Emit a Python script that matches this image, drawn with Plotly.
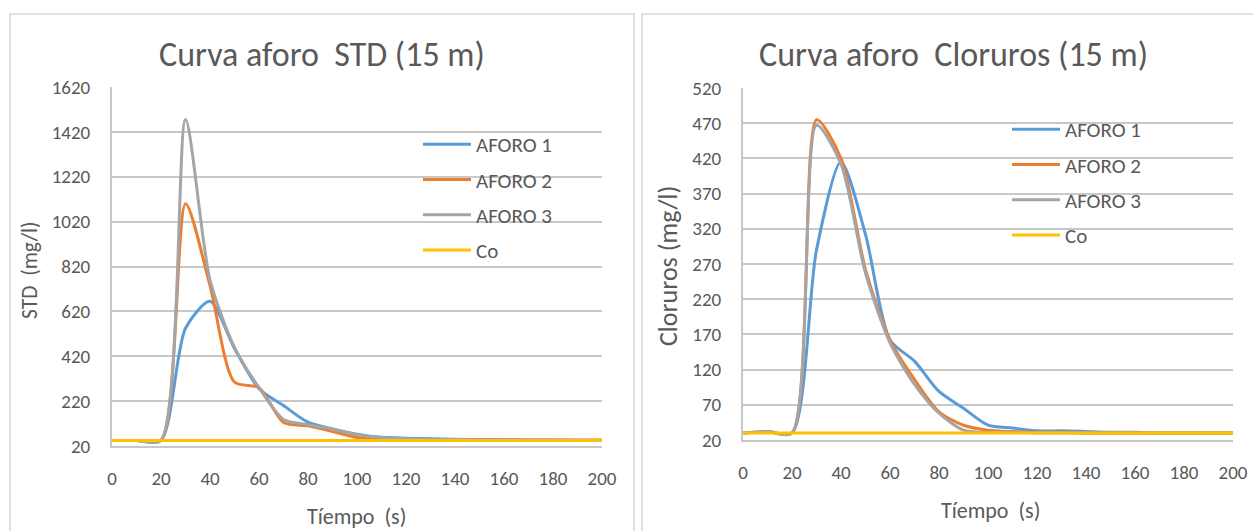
import plotly.graph_objects as go

W, H = 1253, 531

# ---------------- data ----------------
tiempo = [0, 10, 20, 30, 40, 50, 60, 70, 80, 90, 100, 110, 120, 130, 140, 150, 160, 170, 180, 190, 200]

std_aforo1 = [45, 45, 45, 545, 665, 455, 275, 200, 126, 96, 73, 59, 55, 52, 50, 49, 48, 47, 47, 46, 46]
std_aforo2 = [45, 45, 45, 1100, 735, 305, 280, 125, 110, 85, 58, 50, 48, 47, 47, 46, 46, 46, 46, 46, 46]
std_aforo3 = [45, 45, 45, 1475, 760, 460, 280, 138, 115, 95, 70, 57, 52, 50, 49, 48, 47, 47, 46, 46, 46]
std_co = [45] * len(tiempo)

cl_aforo1 = [30, 32, 30, 290, 415, 312, 162, 132, 89, 65, 41, 37, 33, 33, 32, 31, 31, 30, 30, 30, 30]
cl_aforo2 = [30, 32, 30, 475, 420, 262, 162, 106, 60, 41, 34, 32, 31, 31, 30, 30, 30, 30, 30, 30, 30]
cl_aforo3 = [30, 32, 30, 467, 412, 257, 158, 99, 58, 34, 31, 31, 30, 30, 30, 30, 30, 30, 30, 30, 30]
cl_co = [30] * len(tiempo)

series_names = ["AFORO 1", "AFORO 2", "AFORO 3", "Co"]
series_colors = ["#5B9BD5", "#ED7D31", "#A5A5A5", "#FFC000"]

std_ticks = [20, 220, 420, 620, 820, 1020, 1220, 1420, 1620]
cl_ticks = [20, 70, 120, 170, 220, 270, 320, 370, 420, 470, 520]
x_ticks = [0, 20, 40, 60, 80, 100, 120, 140, 160, 180, 200]

FONT = "Carlito, Lato, 'Open Sans', sans-serif"
TXT = "#595959"
GRID = "#C8C8C8"
SMOOTH = 0.75

fig = go.Figure()

for name, color, ys in zip(series_names, series_colors, [std_aforo1, std_aforo2, std_aforo3, std_co]):
    fig.add_trace(go.Scatter(x=tiempo, y=ys, name=name, mode="lines",
                             line=dict(color=color, width=3, shape="spline", smoothing=SMOOTH),
                             xaxis="x", yaxis="y", legend="legend", legendgroup="L" + name))
for name, color, ys in zip(series_names, series_colors, [cl_aforo1, cl_aforo2, cl_aforo3, cl_co]):
    fig.add_trace(go.Scatter(x=tiempo, y=ys, name=name, mode="lines",
                             line=dict(color=color, width=3, shape="spline", smoothing=SMOOTH),
                             xaxis="x2", yaxis="y2", legend="legend2", legendgroup="R" + name))


def xdom(a, b):
    return [a / W, b / W]


def ydom(top, bottom):
    return [1 - bottom / H, 1 - top / H]


tickfont = dict(family=FONT, size=19, color=TXT)
common_x = dict(range=[0, 200], tickvals=x_ticks, showgrid=False, zeroline=False,
                showline=True, linecolor=GRID, linewidth=2, ticks="", automargin=False,
                tickfont=tickfont, ticklabelstandoff=14, fixedrange=True)
common_y = dict(showgrid=True, gridcolor=GRID, gridwidth=2, zeroline=False,
                showline=True, linecolor=GRID, linewidth=2, ticks="", automargin=False,
                tickfont=tickfont, ticklabelstandoff=16, fixedrange=True)

legend_common = dict(font=dict(family=FONT, size=21, color=TXT), bgcolor="rgba(0,0,0,0)",
                     xanchor="left", yanchor="top", tracegroupgap=5, itemwidth=48)

fig.update_layout(
    template="none",
    width=W, height=H,
    margin=dict(l=0, r=0, t=0, b=0, autoexpand=False),
    paper_bgcolor="white", plot_bgcolor="white",
    xaxis=dict(domain=xdom(112, 602), anchor="y", **common_x),
    yaxis=dict(domain=ydom(87, 446), anchor="x", range=[20, 1620], tickvals=std_ticks, **common_y),
    xaxis2=dict(domain=xdom(743, 1233), anchor="y2", **common_x),
    yaxis2=dict(domain=ydom(88, 440), anchor="x2", range=[20, 520], tickvals=cl_ticks, **common_y),
    legend=dict(x=418 / W, y=1 - 124 / H, **legend_common),
    legend2=dict(x=1007 / W, y=1 - 109 / H, **legend_common),
    showlegend=True,
)

# panel borders
fig.add_shape(type="rect", xref="paper", yref="paper", x0=10 / W, x1=634 / W, y0=-0.1, y1=1 - 14 / H,
              line=dict(color="#D9D9D9", width=1.5), fillcolor="rgba(0,0,0,0)", layer="below")
fig.add_shape(type="rect", xref="paper", yref="paper", x0=642 / W, x1=1.1, y0=-0.1, y1=1 - 14 / H,
              line=dict(color="#D9D9D9", width=1.5), fillcolor="rgba(0,0,0,0)", layer="below")

ann = []
ann.append(dict(text="Curva aforo  STD (15 m)", x=322 / W, y=1 - 55 / H, font=dict(family=FONT, size=34, color=TXT)))
ann.append(dict(text="Curva aforo  Cloruros (15 m)", x=953 / W, y=1 - 55 / H, font=dict(family=FONT, size=34, color=TXT)))
ann.append(dict(text="Tíempo  (s)", x=357 / W, y=1 - 516 / H, font=dict(family=FONT, size=22, color=TXT)))
ann.append(dict(text="Tíempo  (s)", x=990 / W, y=1 - 510 / H, font=dict(family=FONT, size=22, color=TXT)))
ann.append(dict(text="STD  (mg/l)", x=30 / W, y=1 - 270 / H, textangle=-90, font=dict(family=FONT, size=21.5, color=TXT)))
ann.append(dict(text="Cloruros (mg/l)", x=668 / W, y=1 - 266 / H, textangle=-90, font=dict(family=FONT, size=26, color=TXT)))
for a in ann:
    a.update(xref="paper", yref="paper", xanchor="center", yanchor="middle", showarrow=False)
fig.update_layout(annotations=ann)

fig.write_html("out.html", config={"displayModeBar": False},
               post_script="document.body.style.margin='0';document.body.style.overflow='hidden';")
